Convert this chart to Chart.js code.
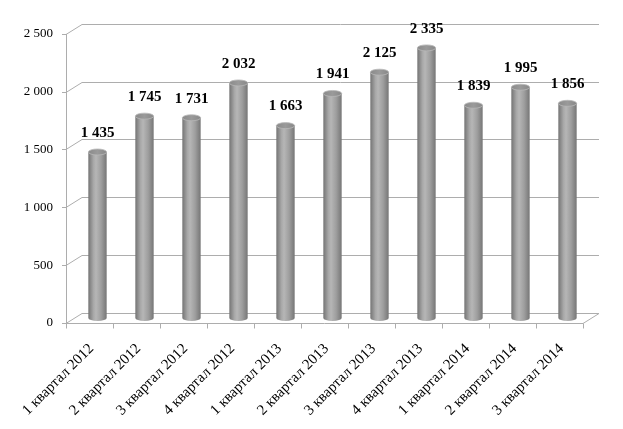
<!DOCTYPE html>
<html>
<head>
<meta charset="utf-8">
<script src="https://cdn.jsdelivr.net/npm/chart.js@4/dist/chart.umd.min.js"></script>
<style>
  html, body { margin: 0; padding: 0; background: #ffffff; }
  #c { display: block; }
</style>
</head>
<body>
<canvas id="c" width="623" height="429"></canvas>
<script>
const categories = [
  "1 квартал 2012", "2 квартал 2012", "3 квартал 2012", "4 квартал 2012",
  "1 квартал 2013", "2 квартал 2013", "3 квартал 2013", "4 квартал 2013",
  "1 квартал 2014", "2 квартал 2014", "3 квартал 2014"
];
const values = [1435, 1745, 1731, 2032, 1663, 1941, 2125, 2335, 1839, 1995, 1856];
const yTicks = [0, 500, 1000, 1500, 2000, 2500];

const SERIF = "'Liberation Serif', 'Times New Roman', serif";
const DX = 8, DY = 5;          // depth offset (mid plane -> back wall)
const BAR_PCT = 0.39;
const GRID = '#adadad';

function fmt(v) { return String(v).replace(/\B(?=(\d{3})+(?!\d))/g, ' '); }

function cylGradient(ctx, x, half) {
  const g = ctx.createLinearGradient(x - half, 0, x + half, 0);
  g.addColorStop(0, '#747474');
  g.addColorStop(0.28, '#a8a8a8');
  g.addColorStop(0.42, '#b6b6b6');
  g.addColorStop(0.7, '#9e9e9e');
  g.addColorStop(1, '#767676');
  return g;
}

const frame3d = {
  id: 'frame3d',
  beforeDatasetsDraw(chart) {
    const ctx = chart.ctx;
    const ys = chart.scales.y;
    const { left, right } = chart.chartArea;
    const y0 = ys.getPixelForValue(0);
    const yTop = ys.getPixelForValue(yTicks[yTicks.length - 1]);
    ctx.save();
    ctx.lineWidth = 1;
    ctx.strokeStyle = GRID;
    ctx.beginPath();
    yTicks.forEach(v => {
      const y = Math.round(ys.getPixelForValue(v)) + 0.5;
      // side wall
      ctx.moveTo(left - DX, y + DY);
      ctx.lineTo(left + DX, y - DY);
      // back wall
      ctx.lineTo(right + DX, y - DY);
      // y tick mark
      ctx.moveTo(left - DX - 4, y + DY);
      ctx.lineTo(left - DX, y + DY);
    });
    // floor front edge + right edge
    const yf = Math.round(y0) + 0.5;
    ctx.moveTo(left - DX, yf + DY);
    ctx.lineTo(right - DX, yf + DY);
    ctx.lineTo(right + DX, yf - DY);
    // front vertical axis
    ctx.moveTo(Math.round(left - DX) + 0.5, Math.round(yTop) + DY);
    ctx.lineTo(Math.round(left - DX) + 0.5, yf + DY);
    // category tick marks on front axis
    const n = categories.length;
    const step = (right - left) / n;
    for (let i = 0; i <= n; i++) {
      const x = Math.round(left - DX + i * step) + 0.5;
      ctx.moveTo(x, yf + DY);
      ctx.lineTo(x, yf + DY + 5);
    }
    ctx.stroke();
    ctx.restore();
  },
  afterDatasetsDraw(chart) {
    const ctx = chart.ctx;
    const meta = chart.getDatasetMeta(0);
    ctx.save();
    meta.data.forEach((bar, i) => {
      const half = bar.width / 2;
      const ry = 3;
      // bottom rounding
      ctx.beginPath();
      ctx.ellipse(bar.x, bar.base, half, ry, 0, 0, Math.PI);
      ctx.fillStyle = cylGradient(ctx, bar.x, half);
      ctx.fill();
      // top cap
      ctx.beginPath();
      ctx.ellipse(bar.x, bar.y, half, ry, 0, 0, Math.PI * 2);
      const cg = ctx.createLinearGradient(bar.x - half, 0, bar.x + half, 0);
      cg.addColorStop(0, '#8a8a8a');
      cg.addColorStop(0.5, '#9a9a9a');
      cg.addColorStop(1, '#888888');
      ctx.fillStyle = cg;
      ctx.fill();
      ctx.strokeStyle = '#b8b8b8';
      ctx.lineWidth = 0.8;
      ctx.stroke();
      // data label
      ctx.fillStyle = '#000';
      ctx.font = 'bold 15px ' + SERIF;
      ctx.textAlign = 'center';
      ctx.textBaseline = 'middle';
      ctx.fillText(fmt(values[i]), bar.x, bar.y - 19);
    });
    ctx.restore();
  }
};

new Chart(document.getElementById('c'), {
  type: 'bar',
  data: {
    labels: categories,
    datasets: [{
      data: values,
      borderWidth: 0,
      barPercentage: BAR_PCT,
      categoryPercentage: 1,
      backgroundColor: (c) => {
        const chart = c.chart;
        const area = chart.chartArea;
        if (!area) return '#a0a0a0';
        const x = chart.scales.x.getPixelForValue(c.dataIndex);
        const half = (area.right - area.left) / categories.length * BAR_PCT / 2;
        return cylGradient(chart.ctx, x, half);
      }
    }]
  },
  options: {
    responsive: false,
    devicePixelRatio: 1,
    animation: false,
    layout: { padding: { left: 8, right: 32, top: 25, bottom: 0 } },
    plugins: { legend: { display: false }, tooltip: { enabled: false } },
    scales: {
      x: {
        grid: { display: false, drawTicks: false },
        border: { display: false },
        ticks: {
          autoSkip: false,
          minRotation: 45,
          maxRotation: 45,
          padding: 22,
          labelOffset: -6,
          color: '#000',
          font: { family: SERIF, size: 15 }
        },
        afterFit(s) { s.height = 111; }
      },
      y: {
        min: 0,
        max: 2500,
        grid: { display: false, drawTicks: false },
        border: { display: false },
        afterBuildTicks(s) { s.ticks = yTicks.map(v => ({ value: v })); },
        ticks: {
          padding: 21,
          labelOffset: 5,
          color: '#000',
          font: { family: SERIF, size: 13 },
          callback: (v) => fmt(v)
        },
        afterFit(s) { s.width = 66; }
      }
    }
  },
  plugins: [frame3d]
});
</script>
</body>
</html>
